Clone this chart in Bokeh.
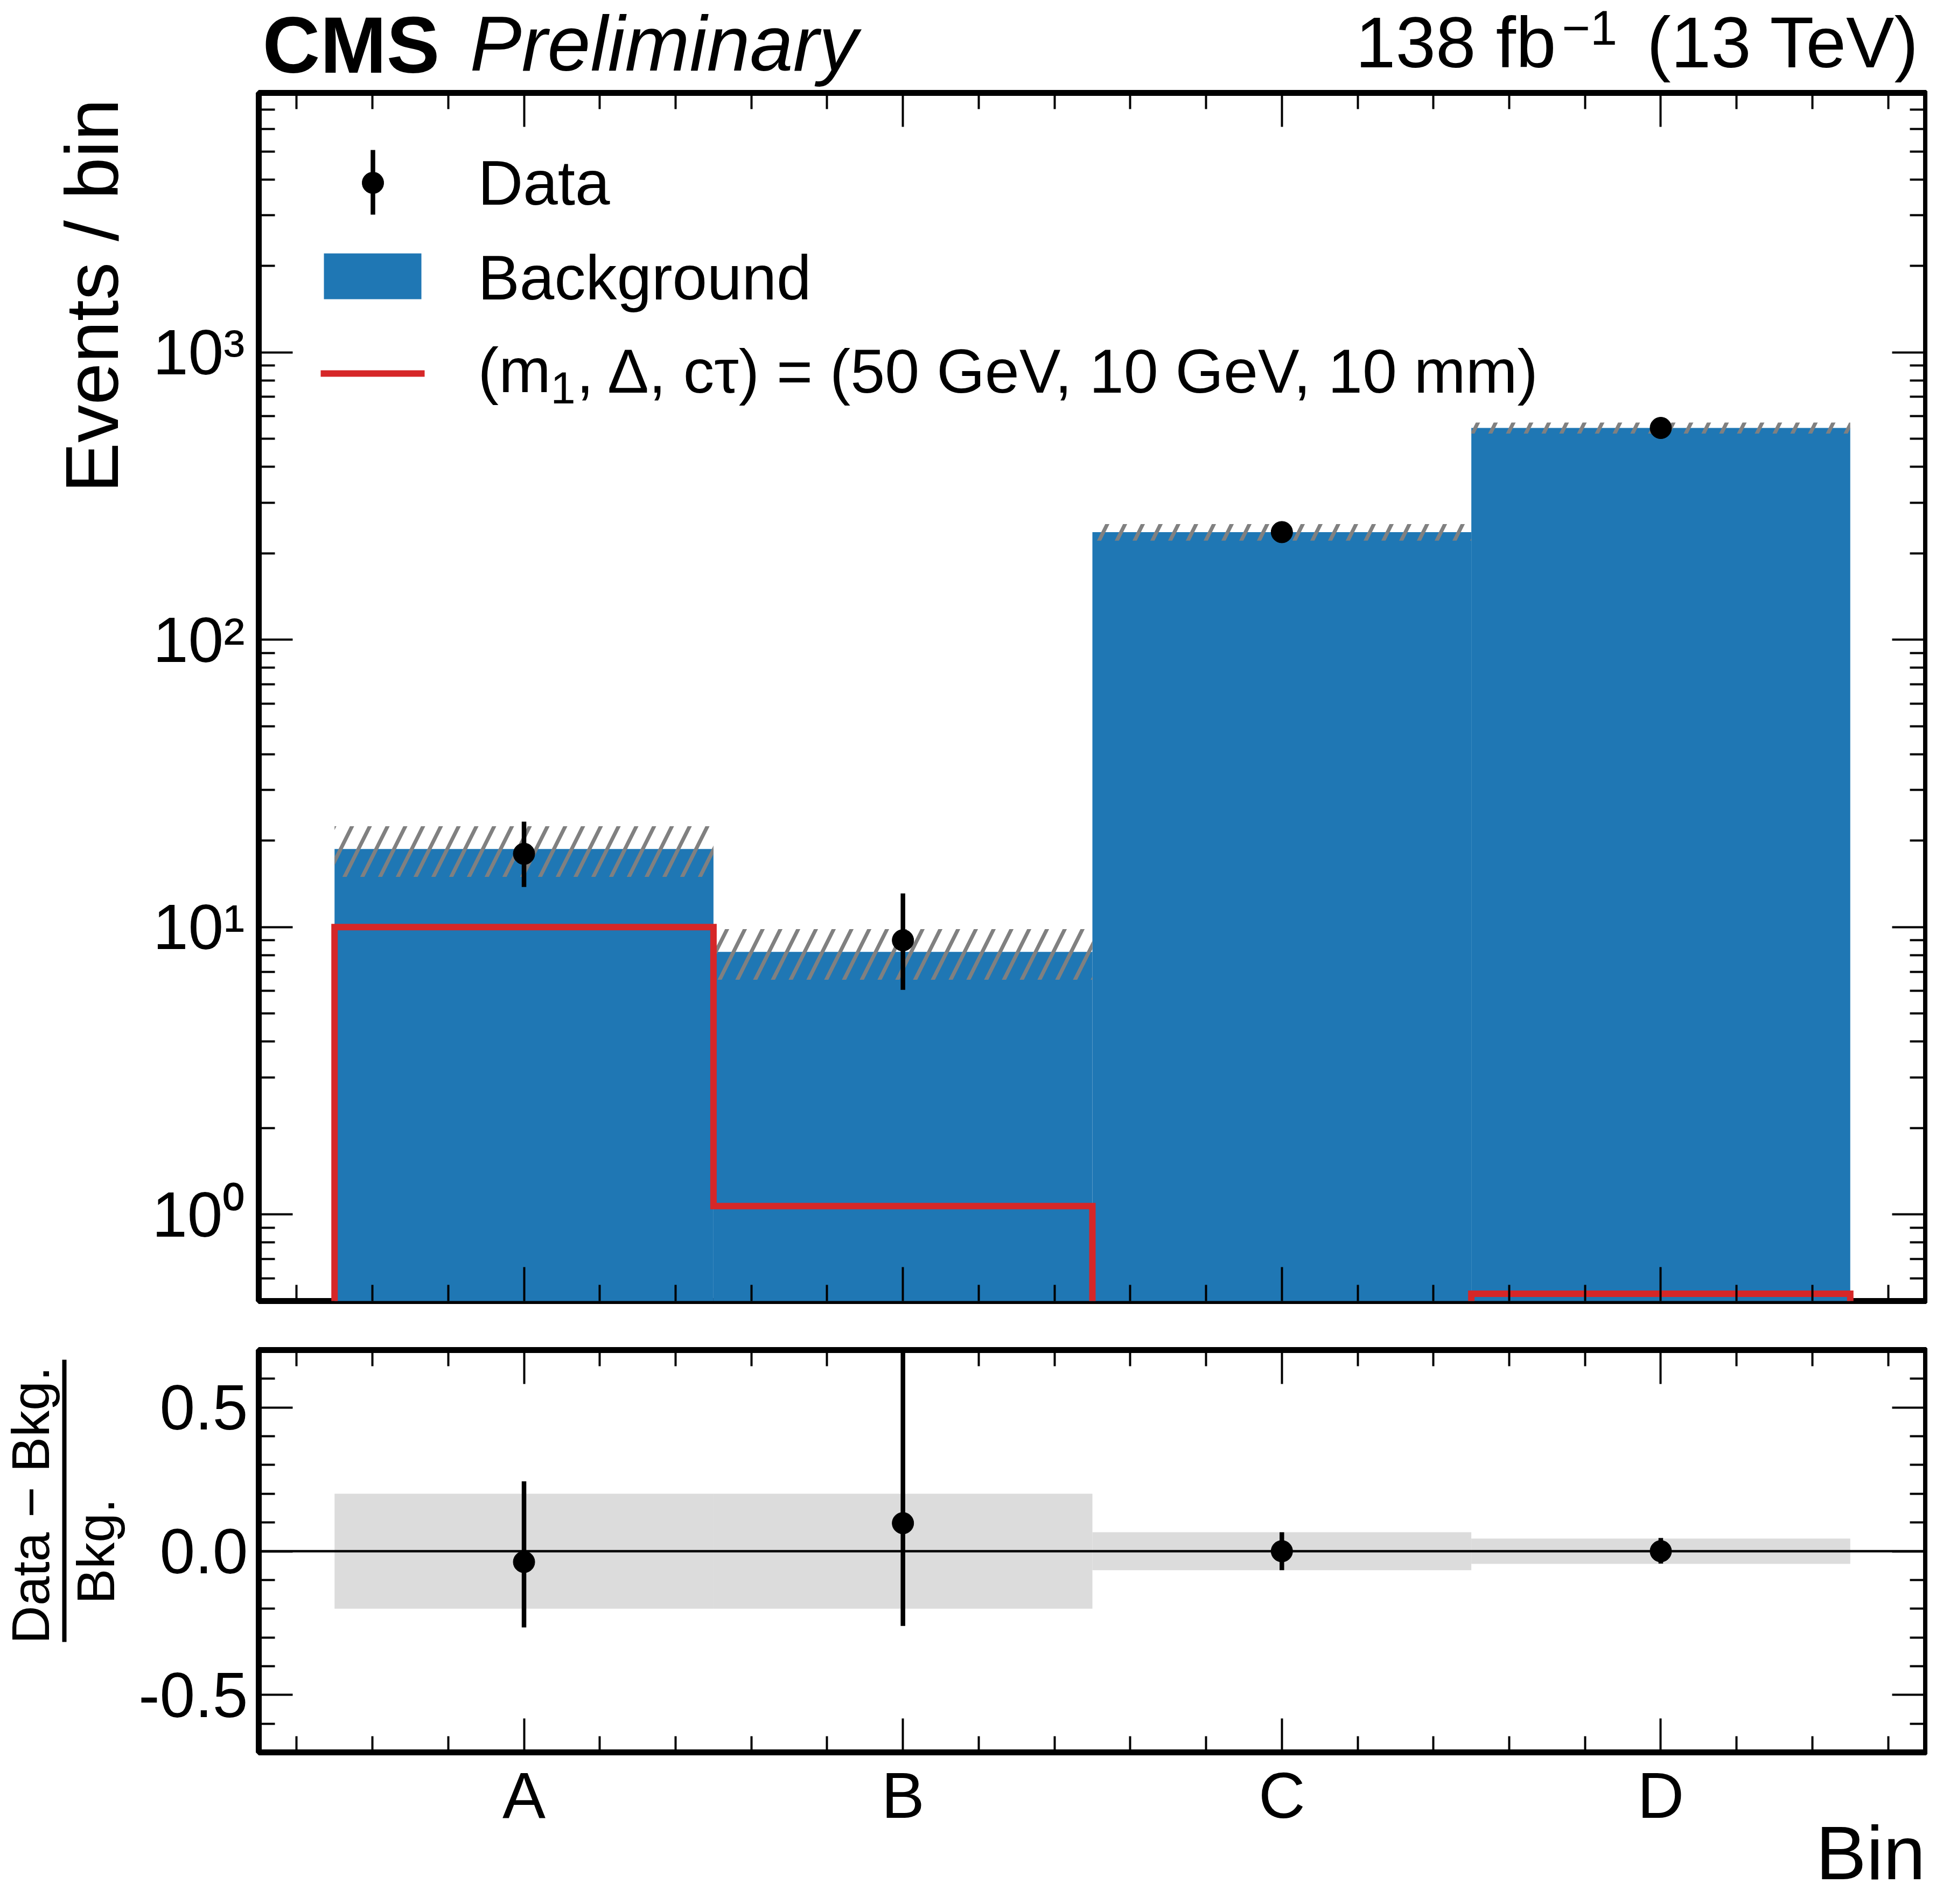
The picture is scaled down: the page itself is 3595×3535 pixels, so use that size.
import numpy as np
from bokeh.plotting import figure
from bokeh.models import (Range1d, LinearAxis, LogAxis, FixedTicker, Label, ColumnDataSource,
                          Span, PrintfTickFormatter, CustomJSTickFormatter, LinearScale)
from bokeh.core.properties import value
from bokeh.layouts import column
from bokeh.embed import file_html
from bokeh.resources import INLINE

# ---------------- data ----------------
bins = ["A", "B", "C", "D"]
bin_centers = [0, 1, 2, 3]
bin_edges = [-0.5, 0.5, 1.5, 2.5, 3.5]
data_counts = [18, 9, 237, 546]
data_low = [13.8, 6.05, 221.6, 522.6]
data_high = [23.3, 13.1, 252.4, 569.4]
bkg = [18.7, 8.2, 237, 546]
bkg_rel_unc = [0.20, 0.20, 0.066, 0.044]
signal = [10.0, 1.07, 0.0, 0.53]
ratio_err_low = [-0.265, -0.26, -0.066, -0.043]   # lower end of the ratio error bar
ratio_err_high = [0.243, 0.75, 0.066, 0.046]      # upper end of the ratio error bar
ytick_values = [1, 10, 100, 1000]
ratio_ticks = [-0.5, 0.0, 0.5]

# ---------------- style / layout (page-canvas pixels) ----------------
FONT = "Liberation Sans"
BLUE = "#1f77b4"
RED = "#d62728"
W = 3579
FRAME_L, FRAME_R = 480, 3576
HEAD_H = 166
MAIN_TOP, MAIN_BOT = 172, 2415
SPLIT = 2460
RAT_TOP, RAT_BOT = 2506, 3253
FOOT_TOP = 3259
TOTAL_H = 3519
FLOOR = 1e-3
X0, X1 = -0.7, 3.7
Y0, Y1 = 0.5, 8000.0
R0, R1 = -0.7, 0.7
MID = 0.3465  # baseline offset below the text-box middle, in em


def xd(px):
    return float(X0 + (px - FRAME_L) * (X1 - X0) / (FRAME_R - FRAME_L))


def yd_main(py):
    span = np.log10(Y1 / Y0)
    return float(10 ** (np.log10(Y0) + (MAIN_BOT - py) * span / (MAIN_BOT - MAIN_TOP)))


def yd_ratio(py):
    return float(R0 + (RAT_BOT - py) * (R1 - R0) / (RAT_BOT - RAT_TOP))


def ident(v):
    return float(v)


x_range = Range1d(X0, X1)
x_minor = [round(float(v), 1) for v in np.arange(-0.6, 3.61, 0.2) if abs(v - round(v)) > 1e-6]
xticker = FixedTicker(ticks=bin_centers, minor_ticks=x_minor)
y_minor = [m * 10.0 ** e for e in range(-1, 4) for m in range(2, 10) if Y0 <= m * 10.0 ** e <= Y1]
yticker = FixedTicker(ticks=ytick_values, minor_ticks=y_minor)
r_minor = [round(float(v), 1) for v in np.arange(-0.6, 0.61, 0.1)
           if abs(round(v, 1) * 2 - round(v * 2)) > 1e-6]
rticker = FixedTicker(ticks=ratio_ticks, minor_ticks=r_minor)


def style_axis(ax, hide=True):
    ax.axis_line_color = None
    ax.major_tick_in = 63
    ax.major_tick_out = 0
    ax.minor_tick_in = 30
    ax.minor_tick_out = 0
    ax.major_tick_line_width = 4
    ax.minor_tick_line_width = 4
    ax.major_tick_line_color = "black"
    ax.minor_tick_line_color = "black"
    ax.major_label_text_font = FONT
    ax.major_label_text_color = "black"
    if hide:
        ax.major_label_text_color = None
        ax.major_label_text_alpha = 0
        ax.major_label_text_font_size = "1px"
        ax.major_label_standoff = 0


def base_fig(height, y_range, y_axis_type, top, bottom, py_bottom, py_top):
    f = figure(width=W, height=height, x_range=x_range, y_range=y_range,
               y_axis_type=y_axis_type, output_backend="svg", toolbar_location=None,
               min_border_left=FRAME_L, min_border_right=W - FRAME_R,
               min_border_top=top, min_border_bottom=bottom)
    f.xgrid.visible = False
    f.ygrid.visible = False
    f.outline_line_color = "black"
    f.outline_line_width = 11
    f.background_fill_color = "white"
    f.border_fill_color = "white"
    f.extra_x_ranges = {"px": Range1d(FRAME_L, FRAME_R)}
    f.extra_y_ranges = {"py": Range1d(py_bottom, py_top)}
    f.extra_x_scales = {"px": LinearScale()}
    f.extra_y_scales = {"py": LinearScale()}
    return f


def text_fig(top, height):
    """A strip sharing the x scale of the panels; its y data = page-canvas pixels."""
    f = figure(width=W, height=height, x_range=x_range, y_range=Range1d(top + height, top),
               output_backend="svg", toolbar_location=None, x_axis_location=None,
               y_axis_location=None, min_border_left=FRAME_L, min_border_right=W - FRAME_R,
               min_border_top=0, min_border_bottom=0)
    f.xgrid.visible = False
    f.ygrid.visible = False
    f.outline_line_color = None
    f.background_fill_color = "white"
    f.border_fill_color = "white"
    return f


def lab(fig, ydf, px, py_base, text, size, align="left", style="normal", rotated=False,
        place="center"):
    """Text whose baseline sits at canvas pixel py_base (or at x=px when rotated 90 deg)."""
    if rotated:
        cx, cy, ang = px - MID * size, py_base, float(np.pi / 2)
    else:
        cx, cy, ang = px, py_base - MID * size, 0.0
    fig.add_layout(Label(x=xd(cx), y=ydf(cy), text=text, text_font=FONT,
                         text_font_size=f"{size}px", text_align=align, text_baseline="middle",
                         text_font_style=style, text_color="black", angle=ang), place)


# ---------------- header strip ----------------
head = text_fig(0, HEAD_H)
lab(head, ident, 487, 134, "CMS", 148, style="bold")
lab(head, ident, 872, 131, "Preliminary", 144, style="italic")
lab(head, ident, 2889, 124, "138 fb", 134, align="right")
lab(head, ident, 2900, 82, "\u22121", 90)
lab(head, ident, 3564, 124, "(13 TeV)", 134, align="right")

# ---------------- main panel ----------------
main = base_fig(SPLIT - HEAD_H, Range1d(Y0, Y1), "log", MAIN_TOP - HEAD_H, SPLIT - MAIN_BOT,
                MAIN_BOT, MAIN_TOP)
main.xaxis.ticker = xticker
main.yaxis.ticker = yticker
for ax in main.xaxis:
    style_axis(ax)
for ax in main.yaxis:
    style_axis(ax, hide=False)
    ax.formatter = CustomJSTickFormatter(code="""
        const sup = {'0': '\u2070', '1': '\u00b9', '2': '\u00b2', '3': '\u00b3', '4': '\u2074',
                     '5': '\u2075', '6': '\u2076', '7': '\u2077', '8': '\u2078', '9': '\u2079',
                     '-': '\u207b'};
        const e = Math.round(Math.log10(tick));
        return '10' + String(e).split('').map((c) => sup[c]).join('');
    """)
    ax.major_label_text_font_size = "118px"
    ax.major_label_standoff = 26
top_ax = LinearAxis(ticker=xticker)
style_axis(top_ax)
main.add_layout(top_ax, "above")
right_ax = LogAxis(ticker=yticker)
style_axis(right_ax)
main.add_layout(right_ax, "right")

bkg_a = np.array(bkg, dtype=float)
unc_a = np.array(bkg_rel_unc)
src = ColumnDataSource(dict(left=bin_edges[:-1], right=bin_edges[1:], bkg=bkg,
                            lo=bkg_a * (1 - unc_a), hi=bkg_a * (1 + unc_a)))
main.quad(left="left", right="right", bottom=FLOOR, top="bkg", source=src,
          fill_color=BLUE, line_color=None)
main.quad(left="left", right="right", bottom="lo", top="hi", source=src,
          fill_color=None, line_color=None, hatch_pattern="/", hatch_color="#808080",
          hatch_weight=7, hatch_scale=66)

sig_plot = np.maximum(np.array(signal, dtype=float), FLOOR)
step_x = np.repeat(bin_edges, 2)
step_y = np.concatenate([[FLOOR], np.repeat(sig_plot, 2), [FLOOR]])
main.line(step_x, step_y, line_color=RED, line_width=12, line_join="miter")

main.segment(x0=bin_centers, y0=data_low, x1=bin_centers, y1=data_high,
             line_color="black", line_width=8.5)
main.scatter(bin_centers, data_counts, size=40, fill_color="black", line_color="black")

# legend (keys in canvas-pixel coordinates of the frame)
main.segment(x0=[692], y0=[278], x1=[692], y1=[398], x_range_name="px", y_range_name="py",
             line_color="black", line_width=8.5)
main.scatter([692], [339], x_range_name="px", y_range_name="py", size=40,
             fill_color="black", line_color="black")
main.quad(left=[601], right=[782], top=[470], bottom=[555], x_range_name="px",
          y_range_name="py", fill_color=BLUE, line_color=None)
main.line([595, 788], [693, 693], x_range_name="px", y_range_name="py",
          line_color=RED, line_width=12)
lab(main, yd_main, 887, 380, "Data", 116)
lab(main, yd_main, 887, 556, "Background", 116)
lab(main, yd_main, 887, 728, "(m", 116)
lab(main, yd_main, 1022, 748, "1", 83)
lab(main, yd_main, 1070, 728, ", \u0394, c\u03c4) = (50 GeV, 10 GeV, 10 mm)", 115)

# y title in the left side panel (not clipped)
lab(main, yd_main, 219, 183, "Events / bin", 140, align="right", rotated=True, place="left")

# ---------------- ratio panel ----------------
ratio = base_fig(FOOT_TOP - SPLIT, Range1d(R0, R1), "linear", RAT_TOP - SPLIT,
                 FOOT_TOP - RAT_BOT, RAT_BOT, RAT_TOP)
ratio.xaxis.ticker = xticker
ratio.yaxis.ticker = rticker
for ax in ratio.xaxis:
    style_axis(ax)
for ax in ratio.yaxis:
    style_axis(ax, hide=False)
    ax.formatter = PrintfTickFormatter(format="%.1f")
    ax.major_label_text_font_size = "118px"
    ax.major_label_standoff = 20
rtop = LinearAxis(ticker=xticker)
style_axis(rtop)
ratio.add_layout(rtop, "above")
rright = LinearAxis(ticker=rticker)
style_axis(rright)
ratio.add_layout(rright, "right")

ratio_vals = np.array(data_counts, dtype=float) / bkg_a - 1.0
rsrc = ColumnDataSource(dict(left=bin_edges[:-1], right=bin_edges[1:], lo=-unc_a, hi=unc_a,
                             x=bin_centers, r=ratio_vals,
                             rlo=ratio_err_low, rhi=ratio_err_high))
ratio.quad(left="left", right="right", bottom="lo", top="hi", source=rsrc,
           fill_color="#dcdcdc", line_color=None)
ratio.add_layout(Span(location=0, dimension="width", line_color="black", line_width=4.5))
ratio.segment(x0="x", y0="rlo", x1="x", y1="rhi", source=rsrc, line_color="black", line_width=8.5)
ratio.scatter("x", "r", source=rsrc, size=40, fill_color="black", line_color="black")

# y title as a fraction: "Bkg." as an axis label, the fraction bar as an axis rule,
# the numerator as a side-panel label
frac_bounds = (yd_ratio(3048), yd_ratio(2524))


def bare_axis(**kw):
    ax = LinearAxis(ticker=FixedTicker(ticks=[]), bounds=frac_bounds,
                    major_tick_in=0, major_tick_out=0, minor_tick_in=0, minor_tick_out=0,
                    major_tick_line_color=None, minor_tick_line_color=None,
                    major_label_text_color=None, major_label_text_font_size="1px",
                    major_label_standoff=0, **kw)
    return ax


denom_axis = bare_axis(axis_line_color=None, axis_label="Bkg.", axis_label_standoff=22,
                       axis_label_text_font=FONT, axis_label_text_font_size="98px",
                       axis_label_text_font_style="normal", axis_label_text_color="black")
ratio.add_layout(denom_axis, "left")
bar_axis = bare_axis(axis_line_color="black", axis_line_width=8)
ratio.add_layout(bar_axis, "left")
lab(ratio, yd_ratio, 90, 2794, "Data \u2212 Bkg.", 98, align="center", rotated=True,
    place="left")

# ---------------- footer strip (bin labels and x title) ----------------
foot = text_fig(FOOT_TOP, TOTAL_H - FOOT_TOP)
foot_src = ColumnDataSource(dict(x=bin_centers, y=[3374 - MID * 120] * len(bins), t=bins))
foot.text(x="x", y="y", text="t", source=foot_src, text_font=value(FONT),
          text_font_size=value("120px"), text_align="center", text_baseline="middle",
          text_color="black")
lab(foot, ident, 3575, 3488, "Bin", 141, align="right")

layout = column(head, main, ratio, foot, spacing=0)
open("out.html", "w").write(file_html(layout, INLINE))
